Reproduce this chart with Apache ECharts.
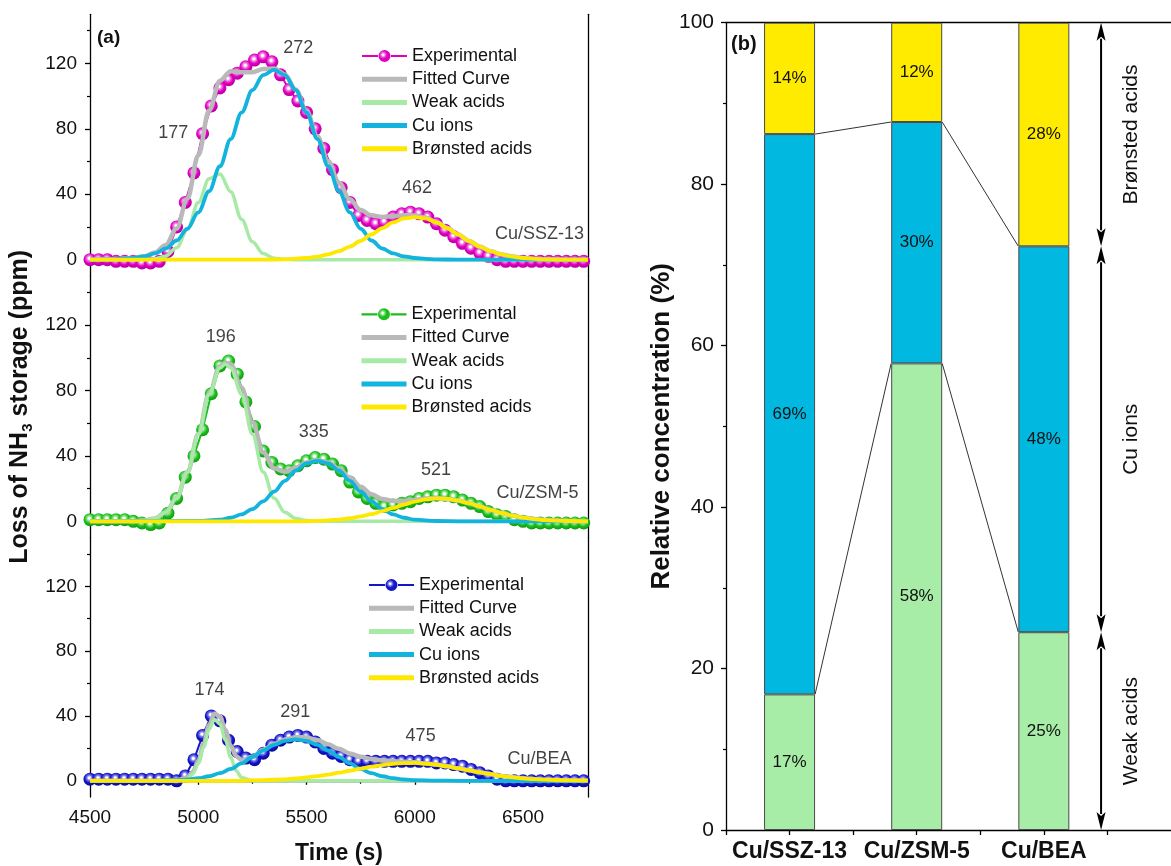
<!DOCTYPE html>
<html>
<head>
<meta charset="utf-8">
<script src="https://cdn.jsdelivr.net/npm/echarts/dist/echarts.min.js"></script>
<style>html,body{margin:0;padding:0;background:#fff;}#c{width:1171px;height:866px;}</style>
</head>
<body>
<div id="c"></div>
<script>
// ---------------- DATA ----------------
// Panel (a) - Cu/SSZ-13
const sszExp = [[4500,0],[4540,0],[4580,0],[4620,-1],[4660,-1],[4700,-1],[4740,-2],[4780,-2],[4820,-1],[4860,5],[4900,20],[4940,35],[4980,53],[5020,77],[5060,94],[5100,105],[5140,110],[5180,114],[5220,118],[5260,122],[5300,124],[5340,121],[5380,113],[5420,104],[5460,97],[5500,90],[5540,80],[5580,68],[5620,55],[5660,44],[5700,35],[5740,27],[5780,24],[5820,22],[5860,23],[5900,26],[5940,28],[5980,29],[6020,28],[6060,26],[6100,22],[6140,18],[6180,14],[6220,10],[6260,7],[6300,4],[6340,2],[6380,0],[6420,-1],[6460,-1],[6500,-1],[6540,-1],[6580,-1],[6620,-1],[6660,-1],[6700,-1],[6740,-1],[6780,-1]];
const sszFit = [[4500,0],[4600,0.2],[4700,1],[4750,2],[4800,4.3],[4850,9],[4900,19],[4950,37.4],[5000,63.8],[5050,91.2],[5100,109.4],[5150,115.2],[5200,114.6],[5250,114.6],[5300,116.5],[5350,116.9],[5400,113.2],[5450,104.1],[5500,90.9],[5550,75.5],[5600,60.3],[5650,47],[5700,36.9],[5750,30.3],[5800,27.1],[5850,26.1],[5900,26.6],[5950,27.2],[6000,27],[6050,25.7],[6100,23],[6150,19.3],[6200,15.4],[6250,11.4],[6300,8],[6350,5.2],[6400,3.2],[6450,1.9],[6500,1],[6550,0.5],[6600,0.2],[6700,0],[6800,0]];
const sszWeak = [[4500,0],[4750,0],[4800,0.5],[4850,2.2],[4900,7.3],[4950,18.5],[5000,34.9],[5050,49.4],[5100,52.3],[5150,41.5],[5200,24.7],[5250,11],[5300,3.7],[5350,0.9],[5400,0.2],[5450,0],[6800,0]];
const sszCu = [[4500,0],[4600,0.2],[4700,1],[4750,2],[4800,3.8],[4850,6.8],[4900,11.7],[4950,18.9],[5000,28.9],[5050,41.8],[5100,57.1],[5150,73.7],[5200,89.9],[5250,103.6],[5300,112.8],[5350,116],[5400,112.8],[5450,103.6],[5500,89.9],[5550,73.7],[5600,57.1],[5650,41.8],[5700,28.9],[5750,18.9],[5800,11.7],[5850,6.8],[5900,3.8],[5950,2],[6000,1],[6050,0.5],[6100,0.2],[6200,0],[6800,0]];
const sszBr = [[4500,0],[5300,0],[5400,0.2],[5500,1],[5550,1.8],[5600,3.2],[5650,5.2],[5700,8],[5750,11.4],[5800,15.4],[5850,19.3],[5900,22.8],[5950,25.2],[6000,26],[6050,25.2],[6100,22.8],[6150,19.3],[6200,15.4],[6250,11.4],[6300,8],[6350,5.2],[6400,3.2],[6450,1.9],[6500,1],[6550,0.5],[6600,0.2],[6700,0],[6800,0]];
const sszNotes = [[4885,77.5,'177'],[5462,129.6,'272'],[6010,43.5,'462'],[6576,15.9,'Cu/SSZ-13']];

// Panel (a) - Cu/ZSM-5
const zsmExp = [[4500,1],[4540,1],[4580,1],[4620,1],[4660,1],[4700,0],[4740,-1],[4780,-2],[4820,-1],[4860,5],[4900,14],[4940,27],[4980,40],[5020,56],[5060,78],[5100,95],[5140,98],[5180,90],[5220,73],[5260,58],[5300,43],[5340,36],[5380,32],[5420,31],[5460,34],[5500,37],[5540,39],[5580,38],[5620,35],[5660,31],[5700,24],[5740,18],[5780,14],[5820,11],[5860,9],[5900,10],[5940,11],[5980,12],[6020,14],[6060,15],[6100,16],[6140,16],[6180,15],[6220,13],[6260,11],[6300,9],[6340,6],[6380,4],[6420,3],[6460,1],[6500,0],[6540,-1],[6580,-1],[6620,-1],[6660,-1],[6700,-1],[6740,-1],[6780,-1]];
const zsmFit = [[4500,0],[4700,0],[4750,0.5],[4800,1.8],[4850,5.5],[4900,14.2],[4950,30.1],[5000,53.4],[5050,78.1],[5100,94.8],[5125,97],[5150,96],[5200,81.8],[5250,60.7],[5300,42.3],[5350,32.4],[5400,30.3],[5450,32.8],[5500,35.9],[5550,37.3],[5600,36],[5650,32.2],[5700,26.7],[5750,21.2],[5800,16.6],[5850,13.7],[5900,12.4],[5950,12.5],[6000,13.1],[6050,13.9],[6100,14.2],[6150,13.7],[6200,12.7],[6250,11.1],[6300,9.1],[6350,7],[6400,5.1],[6450,3.5],[6500,2.3],[6550,1.4],[6600,0.8],[6700,0.2],[6800,0]];
const zsmWeak = [[4500,0],[4700,0],[4750,0.5],[4800,1.8],[4850,5.5],[4900,14.2],[4950,30.1],[5000,53.2],[5050,77.6],[5100,93.8],[5125,96],[5150,93.8],[5200,77.6],[5250,53.2],[5300,30.1],[5350,14.2],[5400,5.5],[5450,1.8],[5500,0.5],[5600,0],[6800,0]];
const zsmCu = [[4500,0],[5000,0.2],[5100,1],[5150,2.2],[5200,4.2],[5250,7.5],[5300,12.2],[5350,18.2],[5400,24.8],[5450,31],[5500,35.4],[5550,37],[5600,35.4],[5650,31],[5700,24.8],[5750,18.2],[5800,12.2],[5850,7.5],[5900,4.2],[5950,2.2],[6000,1],[6100,0.2],[6200,0],[6800,0]];
const zsmBr = [[4500,0],[5500,0],[5600,0.6],[5650,1.1],[5700,1.9],[5750,3],[5800,4.4],[5850,6.2],[5900,8.2],[5950,10.3],[6000,12.1],[6050,13.4],[6100,14],[6150,13.7],[6200,12.7],[6250,11.1],[6300,9.1],[6350,7],[6400,5.1],[6450,3.5],[6500,2.3],[6550,1.4],[6600,0.8],[6700,0.2],[6800,0]];
const zsmNotes = [[5104,112.5,'196'],[5533,54.7,'335'],[6098,31.4,'521'],[6567,17.6,'Cu/ZSM-5']];

// Panel (a) - Cu/BEA
const beaExp = [[4500,1],[4540,1],[4580,1],[4620,1],[4660,1],[4700,1],[4740,1],[4780,1],[4820,1],[4860,1],[4900,0],[4940,3],[4980,13],[5020,28],[5060,40],[5100,37],[5140,25],[5180,18],[5220,14],[5260,13],[5300,17],[5340,22],[5380,25],[5420,27],[5460,28],[5500,27],[5540,24],[5580,20],[5620,17],[5660,15],[5700,13],[5740,12],[5780,12],[5820,12],[5860,12],[5900,12],[5940,12],[5980,12],[6020,12],[6060,12],[6100,11],[6140,11],[6180,10],[6220,9],[6260,7],[6300,5],[6340,3],[6380,1],[6420,0],[6460,0],[6500,0],[6540,0],[6580,0],[6620,0],[6660,0],[6700,0],[6740,0],[6780,0]];
const beaFit = [[4500,0],[4800,0],[4900,0.4],[4950,2.1],[4975,5.4],[5000,12.2],[5025,22.9],[5050,34.5],[5075,41.5],[5100,39.8],[5125,31.3],[5150,21.6],[5175,15.2],[5200,12.8],[5250,14.8],[5300,19.1],[5350,22.8],[5400,25.5],[5450,26.9],[5500,26.7],[5550,25.1],[5600,22.5],[5650,19.7],[5700,16.9],[5750,14.8],[5800,13.4],[5850,12.5],[5900,12.1],[5950,11.7],[6000,11.4],[6050,10.7],[6100,10],[6150,8.9],[6200,7.7],[6250,6.5],[6300,5.2],[6350,4.1],[6400,3],[6450,2.2],[6500,1.5],[6550,1],[6600,0.7],[6700,0.3],[6800,0.1]];
const beaWeak = [[4500,0],[4900,0],[4950,1.3],[4975,4.2],[5000,10.6],[5025,20.7],[5050,31.7],[5075,37.8],[5100,35.1],[5125,25.3],[5150,14.3],[5175,6.2],[5200,2.1],[5250,0.1],[5300,0],[6800,0]];
const beaCu = [[4500,0],[4800,0],[4900,0.4],[4950,0.8],[5000,1.6],[5050,2.8],[5100,4.7],[5150,7.3],[5200,10.7],[5250,14.7],[5300,18.7],[5350,22.2],[5400,24.6],[5450,25.5],[5500,24.6],[5550,22.2],[5600,18.7],[5650,14.7],[5700,10.7],[5750,7.3],[5800,4.7],[5850,2.8],[5900,1.6],[5950,0.8],[6000,0.4],[6100,0.1],[6200,0],[6800,0]];
const beaBr = [[4500,0],[5200,0],[5300,0.4],[5400,0.9],[5450,1.4],[5500,2.1],[5550,2.9],[5600,3.8],[5650,5],[5700,6.2],[5750,7.5],[5800,8.7],[5850,9.7],[5900,10.5],[5950,10.9],[6000,11],[6050,10.6],[6100,9.9],[6150,8.9],[6200,7.7],[6250,6.5],[6300,5.2],[6350,4.1],[6400,3],[6450,2.2],[6500,1.5],[6550,1],[6600,0.7],[6700,0.3],[6800,0.1]];
const beaNotes = [[5052,56.1,'174'],[5448,42.4,'291'],[6027,27.6,'475'],[6576,13.2,'Cu/BEA']];

// Panel (a) axis ticks
const timeTicks = [4500, 5000, 5500, 6000, 6500];
const timeMinorTicks = [4750, 5250, 5750, 6250, 6750];
const lossTicks = [0, 40, 80, 120];
const lossMinorTicks = [20, 60, 100, 140];
const legendNames = ['Experimental', 'Fitted Curve', 'Weak acids', 'Cu ions', 'Brønsted acids'];

// Panel (b)
const barCategories = ['Cu/SSZ-13', 'Cu/ZSM-5', 'Cu/BEA'];
const weakPct = [16.8, 57.8, 24.5];
const cuPct = [69.4, 29.9, 47.8];
const brPct = [13.8, 12.3, 27.7];
const weakLbl = ['17%', '58%', '25%'];
const cuLbl = ['69%', '30%', '48%'];
const brLbl = ['14%', '12%', '28%'];
const regionNames = ['Weak acids', 'Cu ions', 'Brønsted acids'];

// ---------------- STYLE / LAYOUT ----------------
const FONT = '"Liberation Sans", Arial, Helvetica, sans-serif';
const AX = '#000';
const GRID_TOPS = [14.3, 276, 537.7];
const GRID_H = 261.7;
const BAR_W = 51;
const ARROW_X = 3.45;
const TEXT_X = 3.69;
const LINE_ICON = 'path://M0,0 L45,0 L45,5 L0,5 Z';
const EXP_ICON = 'path://M0,5.4 L16,5.4 L16,7.6 L0,7.6 Z M29,5.4 L45,5.4 L45,7.6 L29,7.6 Z M16.5,6.5 A6,6 0 1,1 28.5,6.5 A6,6 0 1,1 16.5,6.5 Z';

function ball(c1, c2, c3) {
  return { type: 'radial', x: 0.45, y: 0.4, r: 0.62, colorStops: [
    { offset: 0, color: '#ffffff' }, { offset: 0.12, color: '#ffffff' },
    { offset: 0.3, color: c1 }, { offset: 0.6, color: c2 }, { offset: 1, color: c3 }] };
}
function iconBall(c1, c2) {
  return { type: 'radial', x: 0.47, y: 0.4, r: 0.55, colorStops: [
    { offset: 0, color: '#ffffff' }, { offset: 0.1, color: '#ffffff' },
    { offset: 0.3, color: c1 }, { offset: 0.6, color: c2 }, { offset: 1, color: c2 }] };
}

const panels = [
  { key: 'ssz', exp: sszExp, fit: sszFit, weak: sszWeak, cu: sszCu, br: sszBr, notes: sszNotes,
    color: '#E000C0', ball: ball('#F27AE4', '#E000C0', '#B0009A'), icon: iconBall('#F27AE4', '#E000C0'), legendLeft: 362, legendTop: 47 },
  { key: 'zsm', exp: zsmExp, fit: zsmFit, weak: zsmWeak, cu: zsmCu, br: zsmBr, notes: zsmNotes,
    color: '#1CBE1C', ball: ball('#8BE58B', '#1CBE1C', '#0F960F'), icon: iconBall('#8BE58B', '#1CBE1C'), legendLeft: 361.5, legendTop: 305.3 },
  { key: 'bea', exp: beaExp, fit: beaFit, weak: beaWeak, cu: beaCu, br: beaBr, notes: beaNotes,
    color: '#1414C8', ball: ball('#8080F0', '#1414C8', '#0A0A96'), icon: iconBall('#8080F0', '#1414C8'), legendLeft: 369, legendTop: 576 }
];

const grids = GRID_TOPS.map(t => ({ left: 90, width: 498, top: t, height: GRID_H }));
grids.push({ left: 726, top: 22.7, width: 445, height: 807.3 });      // frame of (b)
grids.push({ left: 726, top: 22.7, width: 381.4, height: 807.3 });    // bars of (b)

const lineAx = { show: true, lineStyle: { color: AX, width: 1.3 } };

const xAxes = [
  { gridIndex: 0, type: 'value', min: 4500, max: 6800, position: 'top', axisLine: lineAx, axisTick: { show: false }, axisLabel: { show: false }, splitLine: { show: false } },
  { gridIndex: 1, type: 'value', min: 4500, max: 6800, show: false },
  { gridIndex: 2, type: 'value', min: 4500, max: 6800, position: 'bottom', axisLine: lineAx,
    axisTick: { show: true, customValues: timeTicks, length: 4, lineStyle: { color: AX, width: 1.3 } },
    axisLabel: { show: true, customValues: timeTicks, formatter: v => String(v), fontSize: 19, fontFamily: FONT, color: '#111', margin: 11 },
    splitLine: { show: false },
    name: 'Time (s)', nameLocation: 'middle', nameGap: 45,
    nameTextStyle: { fontSize: 23, fontWeight: 'bold', fontFamily: FONT, color: '#111' } },
  { gridIndex: 2, type: 'value', min: 4500, max: 6800, position: 'bottom', axisLine: { show: false },
    axisTick: { show: true, customValues: timeMinorTicks, length: 3, lineStyle: { color: AX, width: 1.2 } },
    axisLabel: { show: false }, splitLine: { show: false } },
  { gridIndex: 3, type: 'value', min: 0.5, max: 4, position: 'bottom', axisLine: lineAx,
    axisTick: { show: true, customValues: [0.5, 1, 1.5, 2, 2.5, 3, 3.5], length: 5, lineStyle: { color: AX, width: 1.3 } },
    axisLabel: { show: true, customValues: [1, 2, 3], formatter: v => barCategories[Math.round(v) - 1] || '',
      fontSize: 23, fontWeight: 'bold', fontFamily: FONT, color: '#111', margin: 10 },
    splitLine: { show: false } },
  { gridIndex: 3, type: 'value', min: 0.5, max: 4, position: 'top', axisLine: lineAx, axisTick: { show: false }, axisLabel: { show: false }, splitLine: { show: false } },
  { gridIndex: 4, type: 'category', data: barCategories, show: false }
];

const yAxes = [];
for (let g = 0; g < 3; g++) {
  const main = { gridIndex: g, type: 'value', min: -10, max: 150, position: 'left', axisLine: lineAx,
    axisTick: { show: true, customValues: lossTicks, length: 5, lineStyle: { color: AX, width: 1.3 } },
    axisLabel: { show: true, customValues: lossTicks, fontSize: 19, fontFamily: FONT, color: '#111', margin: 13 },
    splitLine: { show: false } };
  if (g === 1) {
    main.name = '{b|Loss of NH}{s|3}{b| storage (ppm)}';
    main.nameLocation = 'middle';
    main.nameRotate = 90;
    main.nameGap = 55;
    main.nameTextStyle = { rich: {
      b: { fontSize: 25, fontWeight: 'bold', fontFamily: FONT, color: '#111', lineHeight: 30, verticalAlign: 'middle' },
      s: { fontSize: 15, fontWeight: 'bold', fontFamily: FONT, color: '#111', lineHeight: 30, verticalAlign: 'bottom' } } };
  }
  yAxes.push(main);
  yAxes.push({ gridIndex: g, type: 'value', min: -10, max: 150, position: 'left', axisLine: { show: false },
    axisTick: { show: true, customValues: lossMinorTicks, length: 3, lineStyle: { color: AX, width: 1.2 } },
    axisLabel: { show: false }, splitLine: { show: false } });
  yAxes.push({ gridIndex: g, type: 'value', min: -10, max: 150, position: 'right', axisLine: lineAx,
    axisTick: { show: false }, axisLabel: { show: false }, splitLine: { show: false } });
}
yAxes.push({ gridIndex: 3, type: 'value', min: 0, max: 100, interval: 20, position: 'left', axisLine: lineAx,
  axisTick: { show: true, length: 5, lineStyle: { color: AX, width: 1.3 } },
  minorTick: { show: true, splitNumber: 2, length: 3, lineStyle: { color: AX, width: 1.2 } },
  axisLabel: { show: true, fontSize: 21, fontFamily: FONT, color: '#111', margin: 12 },
  splitLine: { show: false }, minorSplitLine: { show: false },
  name: 'Relative concentration (%)', nameLocation: 'middle', nameRotate: 90, nameGap: 44,
  nameTextStyle: { fontSize: 26, fontWeight: 'bold', fontFamily: FONT, color: '#111' } });
yAxes.push({ gridIndex: 4, type: 'value', min: 0, max: 100, show: false });

const series = [];
const legends = [];
panels.forEach((p, g) => {
  const xi = g, yi = 3 * g;
  const nm = n => p.key + ':' + n;
  series.push({ name: nm('Experimental'), type: 'line', xAxisIndex: xi, yAxisIndex: yi, data: p.exp,
    symbol: 'circle', symbolSize: 13, showAllSymbol: true, z: 2,
    lineStyle: { color: p.color, width: 2 }, itemStyle: { color: p.ball, borderWidth: 0 } });
  const curve = (n, data, color, w, z) => ({ name: nm(n), type: 'line', xAxisIndex: xi, yAxisIndex: yi, data,
    symbol: 'none', smooth: 0.35, smoothMonotone: 'x', z, lineStyle: { color, width: w }, itemStyle: { color } });
  series.push(curve('Fitted Curve', p.fit, '#B9B9B9', 4.5, 3));
  series.push(curve('Weak acids', p.weak, '#A6EAA6', 3.5, 4));
  series.push(curve('Cu ions', p.cu, '#12B3DD', 3.8, 5));
  series.push(curve('Brønsted acids', p.br, '#FFE800', 3.8, 6));
  series.push({ type: 'scatter', xAxisIndex: xi, yAxisIndex: yi, data: p.notes, symbolSize: 0, silent: true, z: 10,
    label: { show: true, position: 'inside', formatter: q => q.data[2], fontSize: 18, fontFamily: FONT, color: '#111' } });
  const legendColors = [null, '#B9B9B9', '#A6EAA6', '#12B3DD', '#FFE800'];
  legends.push({ show: true, orient: 'vertical', left: p.legendLeft, top: p.legendTop, padding: 0,
    itemWidth: 45, itemHeight: 13, itemGap: 5.2, selectedMode: false, symbolKeepAspect: true,
    data: legendNames.map((n, k) => k === 0 ?
      { name: nm(n), icon: EXP_ICON, itemStyle: { color: p.icon, borderWidth: 0 } } :
      { name: nm(n), icon: LINE_ICON, itemStyle: { color: legendColors[k] } }),
    formatter: n => n.split(':')[1],
    textStyle: { fontSize: 18, fontFamily: FONT, color: '#111', lineHeight: 18 } });
});

const barLabel = arr => ({ show: true, position: 'inside', formatter: q => arr[q.dataIndex], fontSize: 17, fontFamily: FONT, color: '#111' });
const barStyle = c => ({ color: c, borderColor: '#4a4a4a', borderWidth: 1 });
series.push({ name: 'weakBar', type: 'bar', xAxisIndex: 6, yAxisIndex: 10, stack: 'b', barWidth: BAR_W, z: 3,
  data: weakPct, itemStyle: barStyle('#A7EDA7'), label: barLabel(weakLbl) });
series.push({ name: 'cuBar', type: 'bar', xAxisIndex: 6, yAxisIndex: 10, stack: 'b', barWidth: BAR_W, z: 3,
  data: cuPct, itemStyle: barStyle('#00B8E0'), label: barLabel(cuLbl) });
series.push({ name: 'brBar', type: 'bar', xAxisIndex: 6, yAxisIndex: 10, stack: 'b', barWidth: BAR_W, z: 3,
  data: brPct, itemStyle: barStyle('#FFEB00'), label: barLabel(brLbl) });

// connector lines between neighbouring bars
series.push({ type: 'custom', xAxisIndex: 6, yAxisIndex: 10, data: [[0, 50], [1, 50]], silent: true, z: 1,
  renderItem: (params, api) => {
    const i = params.dataIndex, h = BAR_W / 2;
    const a = [weakPct[i], weakPct[i] + cuPct[i]];
    const b = [weakPct[i + 1], weakPct[i + 1] + cuPct[i + 1]];
    return { type: 'group', children: a.map((v, k) => {
      const p1 = api.coord([i, v]), p2 = api.coord([i + 1, b[k]]);
      return { type: 'line', shape: { x1: p1[0] + h, y1: p1[1], x2: p2[0] - h, y2: p2[1] },
        style: { stroke: '#333', lineWidth: 1 } };
    }) };
  } });

// double arrows + region names (from Cu/BEA composition)
const bounds = [0, weakPct[2], weakPct[2] + cuPct[2], 100];
series.push({ type: 'custom', xAxisIndex: 4, yAxisIndex: 9, data: regionNames.map((n, i) => [i + 1, 50]), silent: true, z: 5,
  renderItem: (params, api) => {
    const i = params.dataIndex;
    const top = api.coord([ARROW_X, bounds[i + 1]]), bot = api.coord([ARROW_X, bounds[i]]);
    const x = top[0], hl = 18, hw = 4.5;
    const t = api.coord([TEXT_X, (bounds[i] + bounds[i + 1]) / 2]);
    return { type: 'group', children: [
      { type: 'line', shape: { x1: x, y1: top[1] + hl - 2, x2: x, y2: bot[1] - hl + 2 }, style: { stroke: '#000', lineWidth: 2 } },
      { type: 'polygon', shape: { points: [[x, top[1]], [x - hw, top[1] + hl], [x, top[1] + hl - 4], [x + hw, top[1] + hl]] }, style: { fill: '#000' } },
      { type: 'polygon', shape: { points: [[x, bot[1]], [x - hw, bot[1] - hl], [x, bot[1] - hl + 4], [x + hw, bot[1] - hl]] }, style: { fill: '#000' } },
      { type: 'text', x: t[0], y: t[1], rotation: Math.PI / 2,
        style: { text: regionNames[i], textAlign: 'center', textVerticalAlign: 'middle', fontSize: 21, fontFamily: FONT, fill: '#111' } }
    ] };
  } });

const chart = echarts.init(document.getElementById('c'), null, { renderer: 'canvas' });
chart.setOption({
  animation: false,
  backgroundColor: '#ffffff',
  grid: grids,
  xAxis: xAxes,
  yAxis: yAxes,
  legend: legends,
  series: series,
  graphic: [
    { type: 'text', left: 97, top: 28, style: { text: '(a)', fontSize: 19, fontWeight: 'bold', fontFamily: FONT, fill: '#111' } },
    { type: 'text', left: 731, top: 34, style: { text: '(b)', fontSize: 20, fontWeight: 'bold', fontFamily: FONT, fill: '#111' } }
  ]
});
</script>
</body>
</html>
